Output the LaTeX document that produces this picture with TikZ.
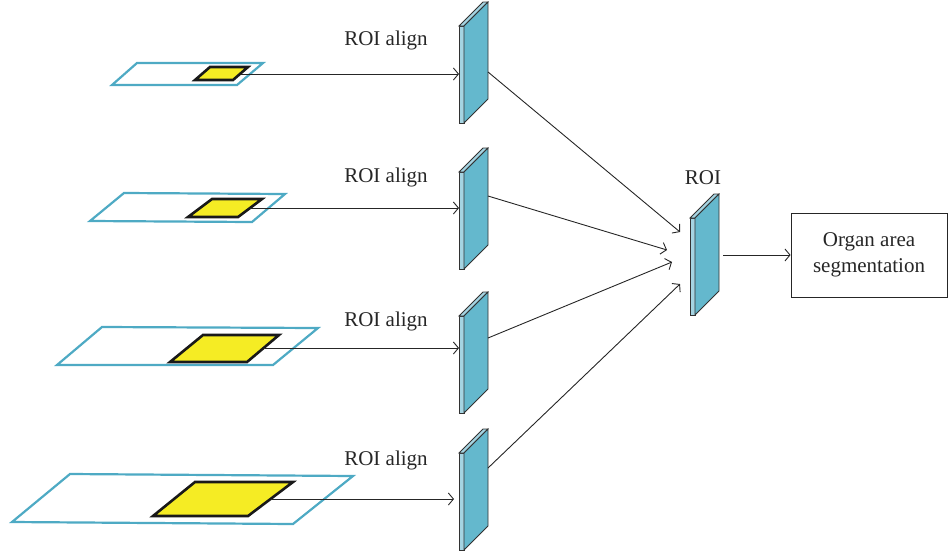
\documentclass[tikz,border=0pt]{standalone}
\usepackage{fontspec}
\setmainfont{Liberation Serif}
\usetikzlibrary{arrows.meta,calc}
\definecolor{platec}{RGB}{100,184,205}
\definecolor{stripc}{RGB}{165,212,226}
\definecolor{edgec}{RGB}{50,50,50}
\definecolor{planec}{RGB}{78,170,196}
\definecolor{roiyel}{RGB}{245,236,36}
\tikzset{
  x=1pt, y=-1pt,
  plane/.style={draw=planec, line width=2.2pt, fill=white},
  roibox/.style={draw=black!90, line width=2.6pt, fill=roiyel, line join=miter},
  arr/.style={draw=black!85, line width=0.9pt, -{Straight Barb[length=5pt,width=12pt]}},
  lbl/.style={font=\fontsize{21}{25}\selectfont, text=black!85, inner sep=0pt},
  plate/.pic={
    \filldraw[fill=stripc, draw=edgec, line width=0.8pt] (0,0) rectangle (5,97);
    \filldraw[fill=stripc, draw=edgec, line width=0.8pt] (0,0) -- (5,0) -- (29,-24) -- (24,-24) -- cycle;
    \filldraw[fill=platec, draw=edgec, line width=0.8pt] (5,0) -- (29,-24) -- (29,73) -- (5,97) -- cycle;
    \coordinate (-in) at (0,48);
  }
}
\begin{document}
\begin{tikzpicture}
\useasboundingbox (0,0) rectangle (949,557);

% planes with yellow ROIs
\draw[plane] (137,63) -- (263,63) -- (237,85) -- (112,85) -- cycle;
\draw[roibox] (210,67) -- (248,67) -- (233,80) -- (195,80) -- cycle;
\coordinate (y1) at (241,74);

\draw[plane] (124,193) -- (285,194) -- (252,222) -- (90,221) -- cycle;
\draw[roibox] (212,199) -- (262,199) -- (238,217) -- (188,217) -- cycle;
\coordinate (y2) at (250,208);

\draw[plane] (102,327) -- (318,328) -- (273,365) -- (57,365) -- cycle;
\draw[roibox] (203,335) -- (279,335) -- (247,362) -- (170,362) -- cycle;
\coordinate (y3) at (265,348);

\draw[plane] (70,474) -- (353,476) -- (293,524) -- (12,522) -- cycle;
\draw[roibox] (195,482) -- (293,482) -- (248,516) -- (153,516) -- cycle;
\coordinate (y4) at (272,499);

% plates
\pic (p1) at (459,26) {plate};
\pic (p2) at (459,172) {plate};
\pic (p3) at (459,316) {plate};
\pic (p4) at (459,453) {plate};
\pic (pr) at (690,218) {plate};

% labels
\node[lbl] (l1) at (386,40) {ROI align};
\node[lbl] (l2) at (386,177) {ROI align};
\node[lbl] (l3) at (386,321) {ROI align};
\node[lbl] (l4) at (386,460) {ROI align};
\node[lbl] (lr) at (703,178) {ROI};

% output box
\node[draw=black!85, line width=0.9pt, minimum width=156pt, minimum height=84pt, inner sep=0pt,
      align=center, font=\fontsize{21}{26}\selectfont, text=black!85] (seg) at (869,255)
      {Organ area\\segmentation};

% arrows from ROIs to plates
\coordinate (a1) at (459,74);
\coordinate (a2) at (459,208);
\coordinate (a3) at (459,348);
\coordinate (a4) at (454,499);
\draw[arr] (y1) -- (a1);
\draw[arr] (y2) -- (a2);
\draw[arr] (y3) -- (a3);
\draw[arr] (y4) -- (a4);

% converging arrows
\coordinate (s1) at (488,72);
\coordinate (s2) at (488,196);
\coordinate (s3) at (488,338);
\coordinate (s4) at (488,468);
\coordinate (t1) at (680,232);
\coordinate (t2) at (667,250);
\coordinate (t3) at (672,262);
\coordinate (t4) at (680,284);
\draw[arr] (s1) -- (t1);
\draw[arr] (s2) -- (t2);
\draw[arr] (s3) -- (t3);
\draw[arr] (s4) -- (t4);

% ROI to segmentation
\coordinate (r0) at (723,255);
\draw[arr] (r0) -- (seg.west);
\end{tikzpicture}
\end{document}
